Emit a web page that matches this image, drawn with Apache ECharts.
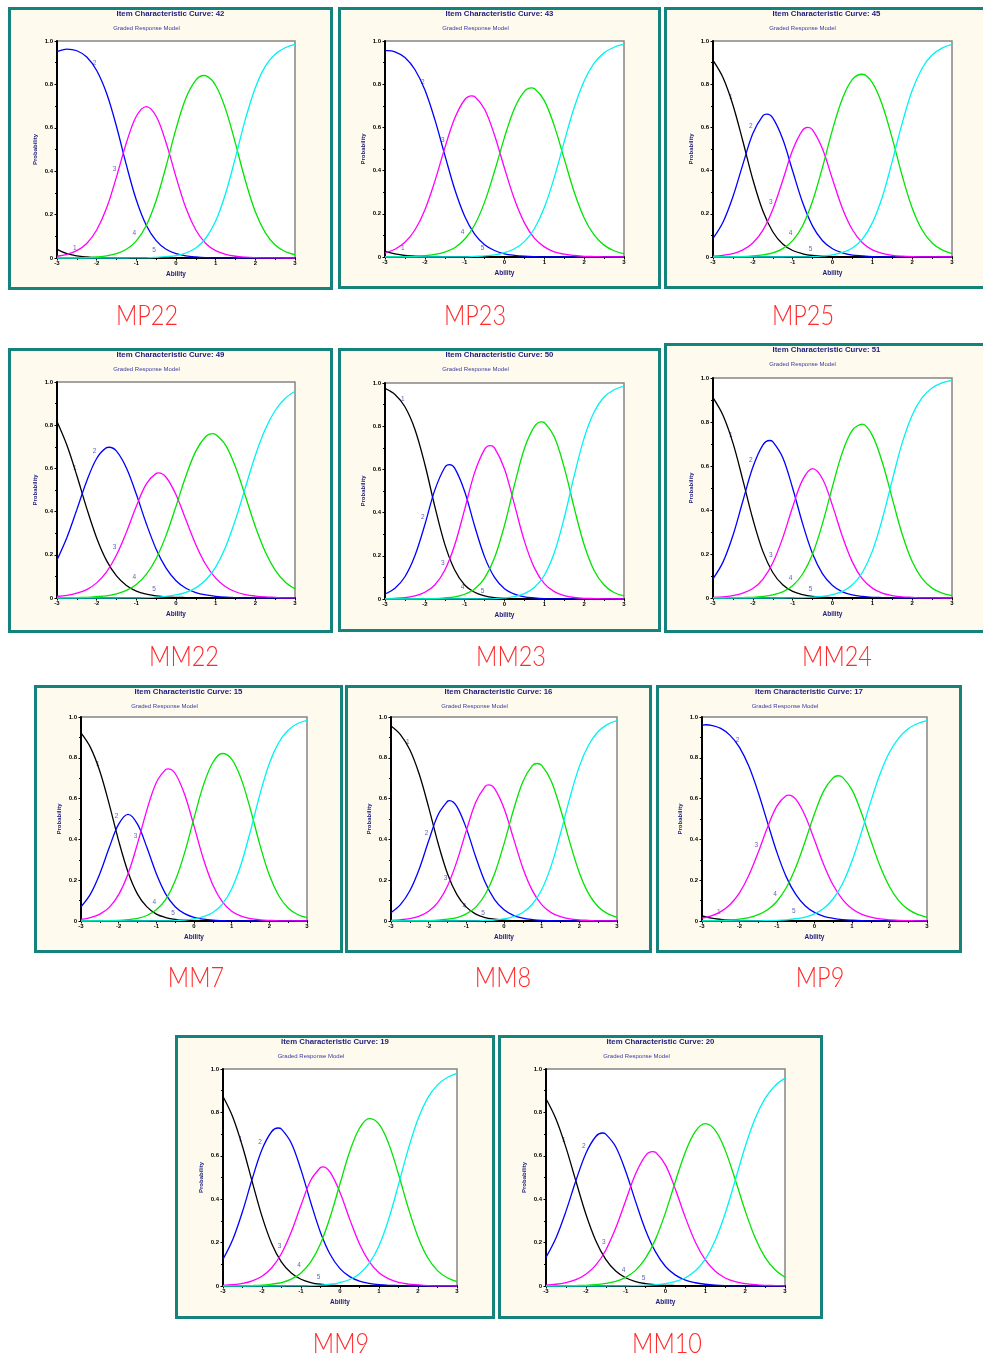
<!DOCTYPE html>
<html><head><meta charset="utf-8">
<script src="https://cdn.jsdelivr.net/npm/echarts@6/dist/echarts.min.js"></script>
<style>html,body{margin:0;padding:0;background:#fff}#c{width:983px;height:1360px}</style>
</head><body><div id="c"></div><script>
// Ability grid (x values of every sampled point)
const theta = [-3,-2.75,-2.5,-2.25,-2,-1.75,-1.5,-1.25,-1,-0.75,-0.5,-0.25,0,0.25,0.5,0.75,1,1.25,1.5,1.75,2,2.25,2.5,2.75,3];
const xTicks = [-3,-2,-1,0,1,2,3];
const yTicks = [0,0.2,0.4,0.6,0.8,1.0];
const categoryNames = ['1','2','3','4','5'];
const panelNames = ['MP22','MP23','MP25','MM22','MM23','MM24','MM7','MM8','MP9','MM9','MM10'];
const itemNumbers = [42,43,45,49,50,51,15,16,17,19,20];

// probabilities of categories 1..5
const mp22 = [
 [.040,.020,.010,.005,.002,.001,.001,0,0,0,0,0,0,0,0,0,0,0,0,0,0,0,0,0,0],
 [.951,.963,.955,.926,.864,.759,.606,.428,.267,.151,.080,.040,.020,.010,.005,.002,.001,.001,0,0,0,0,0,0,0],
 [.008,.017,.034,.067,.129,.230,.374,.531,.653,.698,.653,.531,.374,.230,.129,.067,.034,.017,.008,.004,.002,.001,.001,0,0],
 [0,.001,.001,.002,.005,.010,.020,.040,.079,.150,.265,.423,.595,.737,.820,.840,.795,.686,.527,.356,.213,.117,.060,.030,.015],
 [0,0,0,0,0,0,0,0,.001,.001,.003,.006,.011,.023,.046,.091,.170,.297,.464,.640,.785,.883,.939,.969,.985]];
const mp23 = [
 [.026,.014,.007,.004,.002,.001,.001,0,0,0,0,0,0,0,0,0,0,0,0,0,0,0,0,0,0],
 [.955,.950,.924,.868,.774,.637,.473,.314,.189,.106,.057,.030,.015,.008,.004,.002,.001,.001,0,0,0,0,0,0,0],
 [.019,.036,.068,.125,.218,.350,.504,.642,.728,.743,.684,.564,.411,.267,.158,.087,.047,.024,.013,.007,.003,.002,.001,0,0],
 [0,.001,.002,.003,.006,.012,.023,.043,.082,.148,.254,.397,.554,.688,.767,.780,.724,.607,.454,.301,.181,.102,.055,.029,.015],
 [0,0,0,0,0,0,0,.001,.001,.003,.005,.010,.020,.038,.071,.131,.229,.368,.534,.692,.815,.897,.945,.971,.985]];
const mp25 = [
 [.910,.831,.704,.536,.359,.214,.117,.060,.030,.015,.007,.004,.002,.001,0,0,0,0,0,0,0,0,0,0,0],
 [.086,.161,.279,.429,.572,.653,.644,.546,.398,.252,.143,.075,.038,.019,.009,.005,.002,.001,.001,0,0,0,0,0,0],
 [.004,.008,.016,.033,.065,.123,.220,.354,.495,.587,.589,.500,.360,.225,.126,.066,.033,.017,.008,.004,.002,.001,.001,0,0],
 [0,0,.001,.002,.005,.010,.019,.039,.076,.145,.259,.416,.590,.734,.822,.846,.807,.704,.549,.376,.227,.125,.065,.033,.016],
 [0,0,0,0,0,0,0,0,.001,.001,.002,.005,.010,.021,.042,.083,.158,.278,.443,.620,.771,.874,.935,.967,.984]];
const mm22 = [
 [.817,.707,.567,.415,.278,.173,.102,.058,.032,.018,.010,.005,.003,.002,.001,.001,0,0,0,0,0,0,0,0,0],
 [.176,.280,.409,.542,.646,.696,.680,.602,.480,.345,.226,.138,.080,.045,.025,.014,.008,.004,.002,.001,.001,0,0,0,0],
 [.007,.012,.022,.039,.070,.121,.199,.305,.425,.527,.577,.559,.478,.362,.247,.155,.092,.052,.029,.016,.009,.005,.003,.001,.001],
 [0,.001,.002,.003,.006,.010,.019,.035,.062,.109,.183,.290,.425,.565,.680,.748,.757,.708,.606,.471,.331,.214,.129,.074,.042],
 [0,0,0,0,0,0,0,.001,.001,.002,.004,.008,.014,.026,.047,.083,.143,.236,.363,.512,.660,.781,.868,.924,.957]];
const mm23 = [
 [.975,.947,.890,.786,.624,.429,.254,.134,.065,.031,.014,.006,.003,.001,.001,0,0,0,0,0,0,0,0,0,0],
 [.023,.050,.103,.200,.344,.504,.609,.606,.498,.338,.195,.100,.048,.023,.010,.005,.002,.001,.001,0,0,0,0,0,0],
 [.001,.003,.006,.014,.031,.065,.133,.250,.415,.585,.693,.700,.602,.437,.268,.144,.071,.034,.016,.007,.003,.002,.001,0,0],
 [0,0,0,0,.001,.002,.005,.010,.022,.046,.097,.191,.341,.528,.697,.798,.817,.751,.608,.422,.251,.132,.065,.030,.014],
 [0,0,0,0,0,0,0,0,0,.001,.001,.002,.005,.011,.025,.053,.110,.214,.376,.571,.746,.866,.935,.969,.986]];
const mm24 = [
 [.911,.831,.705,.536,.359,.213,.116,.060,.030,.015,.007,.004,.002,.001,0,0,0,0,0,0,0,0,0,0,0],
 [.087,.163,.284,.441,.594,.695,.711,.639,.499,.338,.201,.110,.057,.028,.014,.007,.003,.002,.001,0,0,0,0,0,0],
 [.003,.005,.011,.022,.043,.085,.159,.273,.414,.537,.588,.541,.420,.279,.163,.087,.045,.022,.011,.005,.003,.001,.001,0,0],
 [0,0,.001,.002,.003,.007,.014,.028,.056,.109,.200,.339,.507,.663,.763,.790,.739,.617,.452,.290,.166,.088,.045,.022,.011],
 [0,0,0,0,0,0,0,0,.001,.002,.004,.007,.015,.030,.060,.116,.213,.359,.536,.705,.831,.911,.955,.978,.989]];
const mm7 = [
 [.922,.851,.734,.572,.393,.239,.132,.069,.034,.017,.008,.004,.002,.001,.001,0,0,0,0,0,0,0,0,0,0],
 [.070,.132,.232,.360,.475,.523,.475,.360,.232,.132,.070,.036,.018,.009,.004,.002,.001,.001,0,0,0,0,0,0,0],
 [.008,.017,.034,.067,.129,.232,.379,.545,.679,.743,.723,.621,.466,.304,.177,.095,.048,.024,.012,.006,.003,.001,.001,0,0],
 [0,0,.001,.002,.003,.007,.013,.027,.055,.106,.197,.334,.504,.666,.777,.821,.794,.698,.546,.373,.225,.124,.064,.032,.016],
 [0,0,0,0,0,0,0,0,.001,.001,.002,.005,.010,.021,.042,.083,.157,.278,.442,.621,.772,.875,.935,.968,.984]];
const mm8 = [
 [.956,.914,.839,.719,.557,.381,.232,.129,.068,.034,.017,.009,.004,.002,.001,.001,0,0,0,0,0,0,0,0,0],
 [.041,.080,.148,.255,.393,.521,.587,.561,.454,.314,.190,.105,.055,.028,.014,.007,.003,.002,.001,0,0,0,0,0,0],
 [.003,.006,.012,.024,.048,.093,.172,.293,.443,.582,.660,.649,.553,.406,.260,.150,.080,.041,.021,.010,.005,.003,.001,.001,0],
 [0,0,.001,.001,.002,.004,.009,.017,.035,.068,.130,.232,.378,.543,.683,.762,.763,.688,.549,.384,.237,.133,.070,.036,.018],
 [0,0,0,0,0,0,0,0,.001,.001,.003,.005,.010,.021,.042,.082,.153,.269,.429,.605,.758,.864,.929,.964,.982]];
const mp9 = [
 [.025,.014,.008,.004,.002,.001,.001,0,0,0,0,0,0,0,0,0,0,0,0,0,0,0,0,0,0],
 [.960,.959,.944,.910,.851,.758,.630,.481,.335,.215,.130,.075,.042,.023,.013,.007,.004,.002,.001,.001,0,0,0,0,0],
 [.014,.025,.046,.081,.138,.224,.337,.461,.564,.615,.597,.516,.397,.275,.175,.105,.060,.034,.019,.010,.006,.003,.002,.001,.001],
 [.001,.002,.003,.005,.009,.017,.031,.055,.097,.164,.263,.390,.526,.639,.703,.704,.643,.531,.396,.268,.168,.099,.057,.032,.018],
 [0,0,0,0,0,.001,.001,.002,.003,.006,.011,.019,.035,.063,.109,.184,.294,.433,.585,.722,.827,.898,.942,.968,.982]];
const mm9 = [
 [.873,.779,.643,.480,.321,.195,.110,.060,.031,.016,.008,.004,.002,.001,.001,0,0,0,0,0,0,0,0,0,0],
 [.123,.214,.343,.494,.629,.712,.723,.659,.535,.385,.247,.145,.080,.043,.022,.012,.006,.003,.002,.001,0,0,0,0,0],
 [.003,.006,.012,.024,.045,.084,.150,.249,.372,.487,.546,.524,.431,.307,.194,.112,.061,.033,.017,.009,.005,.002,.001,.001,0],
 [0,.001,.001,.002,.004,.009,.016,.032,.060,.111,.195,.319,.471,.620,.727,.771,.746,.655,.515,.360,.226,.130,.071,.038,.020],
 [0,0,0,0,0,0,0,.001,.001,.002,.004,.008,.016,.030,.057,.105,.186,.309,.467,.631,.770,.867,.927,.961,.980]];
const mm10 = [
 [.863,.770,.639,.484,.332,.209,.123,.069,.038,.020,.011,.006,.003,.002,.001,.001,0,0,0,0,0,0,0,0,0],
 [.132,.221,.344,.485,.611,.689,.700,.642,.529,.389,.257,.157,.090,.050,.027,.015,.008,.004,.002,.001,.001,0,0,0,0],
 [.004,.008,.016,.029,.054,.096,.165,.267,.393,.517,.601,.616,.557,.445,.315,.202,.120,.068,.037,.020,.011,.006,.003,.002,.001],
 [0,.001,.001,.002,.003,.006,.012,.021,.040,.072,.128,.216,.338,.483,.618,.713,.748,.717,.625,.491,.347,.222,.132,.075,.041],
 [0,0,0,0,0,0,0,.001,.001,.002,.003,.006,.011,.021,.038,.070,.124,.211,.335,.487,.642,.772,.865,.923,.958]];

// peak points [ability, probability] of curves 2, 3 and 4 in each panel
const mp22Peaks = [[-2.725,.963],[-0.75,.698],[0.70,.841]];
const mp23Peaks = [[-2.94,.955],[-0.825,.746],[0.67,.783]];
const mp25Peaks = [[-1.65,.661],[-0.62,.600],[0.72,.846]];
const mm22Peaks = [[-1.685,.698],[-0.44,.579],[0.915,.761]];
const mm23Peaks = [[-1.38,.622],[-0.36,.710],[0.93,.820]];
const mm24Peaks = [[-1.58,.716],[-0.495,.588],[0.71,.791]];
const mm7Peaks  = [[-1.75,.523],[-0.685,.746],[0.78,.821]];
const mm8Peaks  = [[-1.445,.590],[-0.405,.667],[0.88,.772]];
const mp9Peaks  = [[-2.89,.962],[-0.69,.617],[0.63,.712]];
const mm9Peaks  = [[-1.59,.728],[-0.44,.549],[0.785,.772]];
const mm10Peaks = [[-1.585,.705],[-0.325,.619],[1.0075,.748]];

const panelData = [mp22, mp23, mp25, mm22, mm23, mm24, mm7, mm8, mp9, mm9, mm10];
const panelPeaks = [mp22Peaks, mp23Peaks, mp25Peaks, mm22Peaks, mm23Peaks, mm24Peaks, mm7Peaks, mm8Peaks, mp9Peaks, mm9Peaks, mm10Peaks];

// layout: frame box [x,y,w,h], plot area [left,top,w,h], caption centre [x,y]
const layout = [
 {box:[8,7,325,283],    plot:[57,41,238,217],   cap:[147,316]},
 {box:[338,7,323,282],  plot:[385,41,239,216],  cap:[475,316]},
 {box:[664,7,325,282],  plot:[713,41,239,216],  cap:[803,316]},
 {box:[8,348,325,285],  plot:[57,382,238,216],  cap:[184,657]},
 {box:[338,348,323,284],plot:[385,383,239,216], cap:[511,657]},
 {box:[664,343,325,290],plot:[713,378,239,220], cap:[837,657]},
 {box:[34,685,309,268], plot:[81,717,226,204],  cap:[196,978]},
 {box:[345,685,307,268],plot:[391,717,226,204], cap:[503,978]},
 {box:[656,685,306,268],plot:[702,717,225,204], cap:[820,978]},
 {box:[175,1035,320,284],plot:[223,1069,234,217],cap:[341,1344]},
 {box:[498,1035,325,284],plot:[546,1069,239,217],cap:[667,1344]}
];

const curveColors = ['#000000','#0000ff','#ff00ff','#00e400','#00f2f2'];
const navy = '#1c1c7c';
const FF = '"Liberation Sans", Arial, sans-serif';

const grids = [], xAxes = [], yAxes = [], series = [], elements = [];

function curvePoints(vals, peak) {
  const pts = vals.map((v, j) => [theta[j], v]);
  if (peak && !theta.some(t => Math.abs(t - peak[0]) < 0.05)) {
    pts.push([peak[0], peak[1]]);
    pts.sort((a, b) => a[0] - b[0]);
  }
  return pts;
}

layout.forEach((L, i) => {
  const [bx, by, bw, bh] = L.box;
  const [pl, pt, pw, ph] = L.plot;
  elements.push({type:'rect', z:-10, shape:{x:bx+1.5, y:by+1.5, width:bw-3, height:bh-3},
    style:{fill:'#fefaee', stroke:'#14837c', lineWidth:3}});
  const cx = bx + bw/2;
  elements.push({type:'text', z:100, style:{text:'Item Characteristic Curve: ' + itemNumbers[i],
    x:cx, y:by+7, fill:navy, font:'bold 7.8px ' + FF, textAlign:'center', textVerticalAlign:'middle', align:'center', verticalAlign:'middle'}});
  elements.push({type:'text', z:100, style:{text:'Graded Response Model',
    x:cx-24, y:by+21, fill:'#3c3c9c', font:'6px ' + FF, textAlign:'center', textVerticalAlign:'middle', align:'center', verticalAlign:'middle'}});
  elements.push({type:'text', z:100, x:L.cap[0], y:L.cap[1], scaleX:0.87, scaleY:1,
    style:{text:panelNames[i], x:0, y:0, fill:'#ff2a2a',
    font:'300 27px Lato, Roboto, "Liberation Sans", sans-serif',
    textAlign:'center', textVerticalAlign:'middle', align:'center', verticalAlign:'middle'}});

  grids.push({left:pl, top:pt, width:pw, height:ph, show:true, backgroundColor:'#ffffff',
    borderColor:'#858585', borderWidth:1.5, containLabel:false, outerBoundsMode:'none'});
  xAxes.push({type:'value', gridIndex:i, min:xTicks[0], max:xTicks[xTicks.length-1], interval:1,
    name:'Ability', nameLocation:'middle', nameGap:13,
    nameTextStyle:{fontSize:6.5, fontWeight:'bold', color:navy, fontFamily:FF},
    axisLine:{show:true, onZero:false, lineStyle:{color:'#000', width:2}},
    axisTick:{show:true, length:2.5, lineStyle:{color:'#000', width:1}},
    minorTick:{show:true, splitNumber:2, length:2, lineStyle:{color:'#000', width:1}},
    splitLine:{show:false},
    axisLabel:{fontSize:6, fontWeight:'bold', color:'#000', margin:2, fontFamily:FF,
      showMinLabel:true, showMaxLabel:true}});
  yAxes.push({type:'value', gridIndex:i, min:yTicks[0], max:yTicks[yTicks.length-1], interval:0.2,
    name:'Probability', nameLocation:'middle', nameGap:19, nameRotate:90,
    nameTextStyle:{fontSize:6, fontWeight:'bold', color:navy, fontFamily:FF},
    axisLine:{show:true, onZero:false, lineStyle:{color:'#000', width:2}},
    axisTick:{show:true, length:2.5, lineStyle:{color:'#000', width:1}},
    minorTick:{show:true, splitNumber:2, length:2, lineStyle:{color:'#000', width:1}},
    splitLine:{show:false},
    axisLabel:{fontSize:6, fontWeight:'bold', color:'#000', margin:4, fontFamily:FF,
      showMinLabel:true, showMaxLabel:true,
      formatter:v => v === 0 ? '0' : v.toFixed(1)}});

  const cats = panelData[i];
  const peaks = panelPeaks[i];
  // category number labels, placed above each curve at theta = -2.5, -2, -1.5, -1, -0.5
  const labelPts = cats.map((vals, k) => {
    const idx = 2 + 2*k;
    return {value:[theta[idx], vals[idx]], name:categoryNames[k]};
  });
  series.push({type:'scatter', xAxisIndex:i, yAxisIndex:i, symbolSize:0, z:1, silent:true,
    data:labelPts,
    label:{show:true, position:'top', distance:4, offset:[-2,0], formatter:p => p.name,
      fontSize:6.5, color:'#3a3aa0', fontFamily:FF}});
  cats.forEach((vals, k) => {
    const peak = (k >= 1 && k <= 3) ? peaks[k-1] : null;
    series.push({type:'line', xAxisIndex:i, yAxisIndex:i, name:categoryNames[k], z:3,
      data:curvePoints(vals, peak),
      showSymbol:false, symbol:'none', smooth:0.35, silent:true,
      lineStyle:{color:curveColors[k], width:1.3}, itemStyle:{color:curveColors[k]}});
  });
});

const chart = echarts.init(document.getElementById('c'), null, {renderer:'canvas'});
chart.setOption({
  backgroundColor:'#ffffff',
  animation:false,
  graphic:{elements:elements},
  grid:grids, xAxis:xAxes, yAxis:yAxes, series:series
});
</script></body></html>
